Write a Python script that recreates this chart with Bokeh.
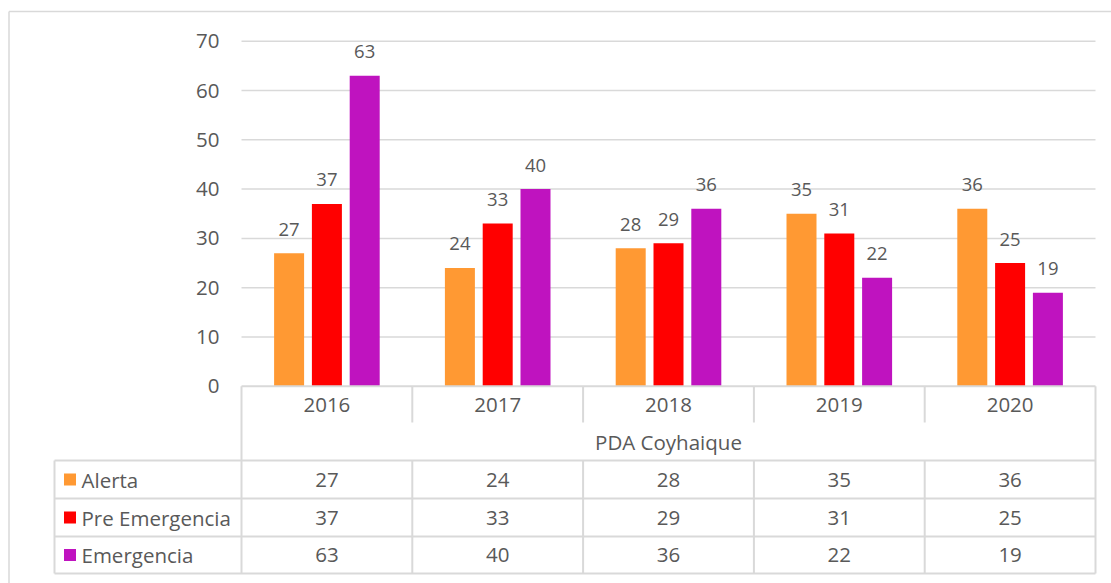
from bokeh.plotting import figure
from bokeh.models import Range1d, ColumnDataSource
from bokeh.core.properties import value
from bokeh.embed import file_html
from bokeh.resources import INLINE

# ---- data ----
years = ["2016", "2017", "2018", "2019", "2020"]
series_names = ["Alerta", "Pre Emergencia", "Emergencia"]
alerta = [27, 24, 28, 35, 36]
pre_emergencia = [37, 33, 29, 31, 25]
emergencia = [63, 40, 36, 22, 19]
group_label = "PDA Coyhaique"
y_ticks = [0, 10, 20, 30, 40, 50, 60, 70]

colors = ["#FF9933", "#FF0000", "#BF13BF"]
TXT = "#595959"
GRID = "#D9D9D9"
FONT = value("Open Sans")

W, H = 1111, 583
OFF = 0  # Bokeh's page template sets body margin to 0

# layout helpers (page pixel -> data coords)
PX_L, PX_R = 241.0, 1095.0
COLW = (PX_R - PX_L) / len(years)
Y0, K = 385.8, 4.93


def xd(px):
    return (px - PX_L) / COLW - 0.5


def yd(py):
    return (Y0 - py) / K


p = figure(width=W, height=H, output_backend="svg", toolbar_location=None,
           x_range=Range1d(xd(OFF), xd(OFF + W)), y_range=Range1d(yd(OFF + H), yd(OFF)),
           x_axis_location=None, y_axis_location=None, min_border=0)
p.outline_line_color = None
p.xgrid.visible = False
p.ygrid.visible = False
p.background_fill_color = "white"

# outer chart-area border (top & left visible)
p.segment(x0=[xd(8.5), xd(8.5)], y0=[yd(11), yd(11)], x1=[xd(1111), xd(8.5)], y1=[yd(11), yd(583)],
          line_color=GRID, line_width=1.5)

# gridlines
gl = [t for t in y_ticks if t > 0]
p.segment(x0=[-0.5] * len(gl), y0=gl, x1=[len(years) - 0.5] * len(gl), y1=gl,
          line_color=GRID, line_width=1.5)

# y tick labels
p.text(x=[xd(219)] * len(y_ticks), y=y_ticks, text=[str(t) for t in y_ticks],
       text_align="right", text_baseline="middle", text_color=TXT,
       text_font=FONT, text_font_size="20.5px")

# bars
bw = 30.0 / COLW
step = 37.8 / COLW
all_series = [alerta, pre_emergencia, emergencia]
for j, (vals, c) in enumerate(zip(all_series, colors)):
    xs = [i + (j - 1) * step for i in range(len(years))]
    src = ColumnDataSource(dict(x=xs, top=vals, lbl=[str(v) for v in vals]))
    p.vbar(x="x", top="top", width=bw, bottom=0, source=src, fill_color=c, line_color=None)
    p.text(x="x", y="top", text="lbl", source=src, text_align="center", text_baseline="middle",
           y_offset=-24, text_color=TXT, text_font=FONT, text_font_size="18.5px")

# ---- data table ----
n = len(years)
xb = [i - 0.5 for i in range(n + 1)]
xlab = xd(54)
y_axis = 0.0
y_div_end = yd(422)
y_pda = yd(460)
row_b = [yd(498), yd(536), yd(573)]
row_edges = [y_pda] + row_b

hx0, hy0, hx1, hy1 = [], [], [], []
# top line of the table (category axis)
hx0.append(-0.5); hy0.append(y_axis); hx1.append(n - 0.5); hy1.append(y_axis)
for yy in row_edges:
    hx0.append(xlab); hy0.append(yy); hx1.append(n - 0.5); hy1.append(yy)
vx0, vy0, vx1, vy1 = [], [], [], []
# outer verticals
for xx, ytop in [(xlab, y_pda), (-0.5, y_axis), (n - 0.5, y_axis)]:
    vx0.append(xx); vy0.append(ytop); vx1.append(xx); vy1.append(row_b[-1])
# inner dividers
for xx in xb[1:-1]:
    vx0.append(xx); vy0.append(y_axis); vx1.append(xx); vy1.append(y_div_end)
    vx0.append(xx); vy0.append(y_pda); vx1.append(xx); vy1.append(row_b[-1])
p.segment(x0=hx0 + vx0, y0=hy0 + vy0, x1=hx1 + vx1, y1=hy1 + vy1, line_color=GRID, line_width=2)

# year labels
p.text(x=list(range(n)), y=[yd(404)] * n, text=years, text_align="center", text_baseline="middle",
       text_color=TXT, text_font=FONT, text_font_size="20.5px")
# group label
p.text(x=[(n - 1) / 2], y=[yd(441)], text=[group_label], text_align="center", text_baseline="middle",
       text_color=TXT, text_font=FONT, text_font_size="20.5px")

row_c = [(row_edges[k] + row_edges[k + 1]) / 2 for k in range(3)]
# legend keys and series names
p.scatter(x=[xd(69.5)] * 3, y=row_c, marker="square", size=12, fill_color=colors, line_color=None)
p.text(x=[xd(81)] * 3, y=row_c, text=series_names, text_align="left", text_baseline="middle",
       text_color=TXT, text_font=FONT, text_font_size="20.5px")
# values
for k, vals in enumerate(all_series):
    p.text(x=list(range(n)), y=[row_c[k]] * n, text=[str(v) for v in vals], text_align="center",
           text_baseline="middle", text_color=TXT, text_font=FONT, text_font_size="20.5px")

open("out.html", "w").write(file_html(p, INLINE))
